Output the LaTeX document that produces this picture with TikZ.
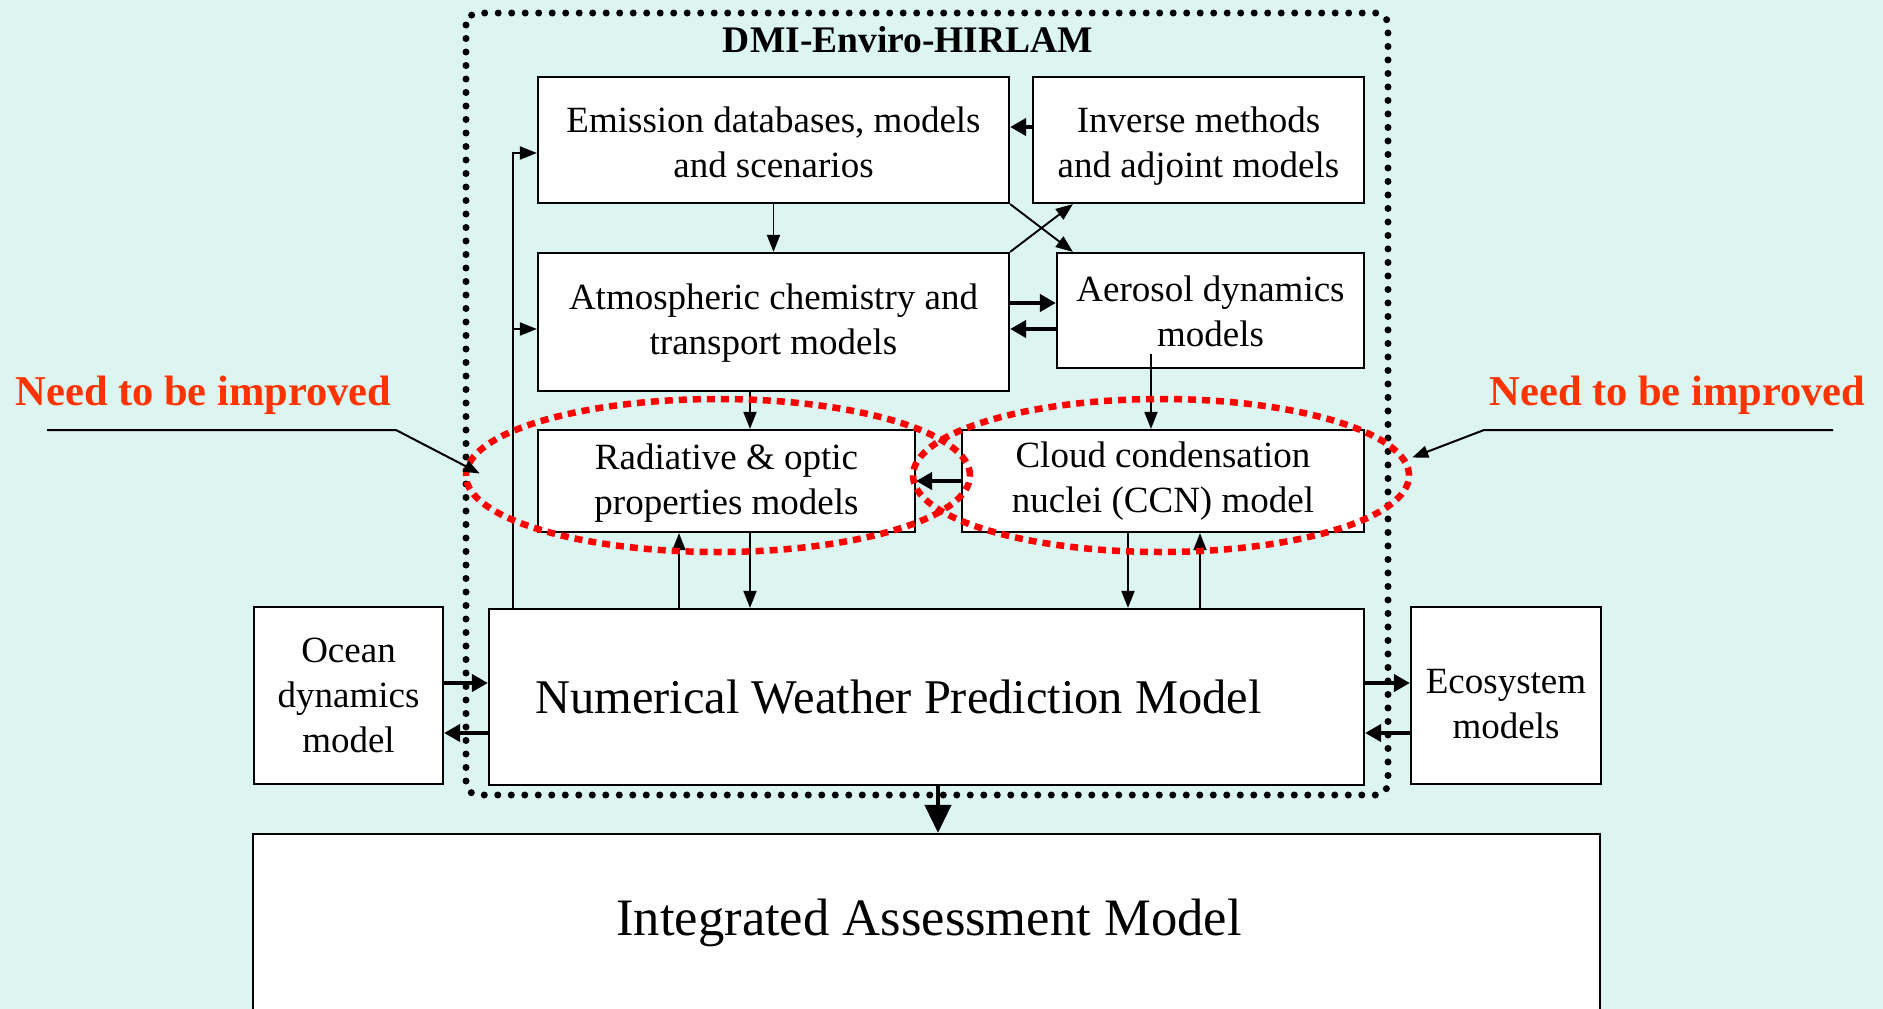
\documentclass[tikz,border=0pt]{standalone}
\usepackage{fontspec}
\setmainfont{Liberation Serif}
\usetikzlibrary{arrows.meta,calc,shapes.geometric}
\definecolor{bgc}{HTML}{DCF5F0}
\definecolor{labred}{HTML}{FF3300}
\definecolor{ellred}{HTML}{FF0000}
\newcommand\tstr[1]{\rule{0pt}{#1pt}}
\newcommand\bstr{\rule[-10pt]{0pt}{10pt}}
\begin{document}
\begin{tikzpicture}[x=1pt,y=-1pt,
  box/.style={draw=black, fill=white, line width=2.2pt, inner sep=0pt, align=center,
    font=\fontsize{37}{45}\selectfont},
  conn/.style={line width=1.9pt, -{Triangle[length=17pt,width=13pt]}},
  bconn/.style={line width=4pt, -{Triangle[length=16pt,width=17pt]}},
  bigarrow/.style={line width=4pt, -{Triangle[length=28pt,width=26pt]}},
  lbl/.style={line width=2pt, -{Triangle[length=16pt,width=12pt]}},
  dotframe/.style={draw=black, line width=7pt, line cap=round, dash pattern=on 0pt off 13.5pt, rounded corners=12pt},
  redell/.style={ellipse, draw=ellred, line width=6.5pt, dash pattern=on 8pt off 6pt, inner sep=0pt},
  needtxt/.style={text=labred, font=\bfseries\fontsize{42.5}{46}\selectfont, inner sep=0pt}
]
\fill[bgc] (0,0) rectangle (1883,1009);
\useasboundingbox (0,0) rectangle (1883,1009);

% boxes
\node[box, minimum width=471pt, minimum height=126pt] (emis) at (773.5,140) {\tstr{40}Emission databases, models\\and scenarios\bstr};
\node[box, minimum width=331pt, minimum height=126pt] (inv) at (1198.5,140) {\tstr{40}Inverse methods\\and adjoint models\bstr};
\node[box, minimum width=471pt, minimum height=138pt] (atm) at (773.5,322) {\tstr{29}Atmospheric chemistry and\\transport models\bstr};
\node[box, minimum width=307pt, minimum height=115pt] (aer) at (1210.5,310.5) {\tstr{36}Aerosol dynamics\\models\bstr};
\node[box, minimum width=377pt, minimum height=102pt] (rad) at (726.5,481) {\tstr{32}Radiative \& optic\\properties models\bstr};
\node[box, minimum width=402pt, minimum height=102pt] (ccn) at (1163,481) {\tstr{27.5}Cloud condensation\\nuclei (CCN) model\bstr};
\node[box, minimum width=875pt, minimum height=176pt, font=\fontsize{48.4}{52}\selectfont] (nwp) at (926.5,697) {Numerical Weather Prediction Model\hspace{56pt}};
\node[box, minimum width=189pt, minimum height=177pt] (ocean) at (348.5,695.5) {\tstr{33}Ocean\\dynamics\\model\bstr};
\node[box, minimum width=190pt, minimum height=177pt] (eco) at (1506,695.5) {\tstr{50}Ecosystem\\models\bstr};
\node[box, minimum width=1347pt, minimum height=200pt, text height=46pt, text depth=43pt, font=\fontsize{52.6}{58}\selectfont] (iam) at (926.5,934) {\hspace*{5pt}Integrated Assessment Model};

% connectors inside the frame
\coordinate (lv) at ($(nwp.north west)+(25,0)$);
\draw[conn] (lv) |- ($(emis.west)+(0,13)$);
\draw[conn] (lv) |- ($(atm.west)+(0,7)$);
\draw[bconn] ($(inv.west)+(0,-13)$) -- ($(emis.east)+(0,-13)$);
\draw[conn] (emis) -- (atm);
\draw[conn] (emis.south east) -- ($(aer.north west)+(17,0)$);
\draw[conn] (atm.north east) -- ($(inv.south west)+(41,0)$);
\coordinate (p1) at ($(atm.east)+(0,-19)$);
\draw[bconn] (p1) -- (p1 -| aer.west);
\coordinate (p2) at ($(atm.east)+(0,7)$);
\draw[bconn] (p2 -| aer.west) -- (p2);
\coordinate (p3) at ($(rad.north)+(23.5,0)$);
\draw[conn] (p3 |- atm.south) -- (p3);
\coordinate (p4) at ($(ccn.north)+(-12,0)$);
\draw[conn] ($(p4 |- aer.south)+(0,-15)$) -- (p4);
\draw[bconn] (ccn.west) -- (rad.east);
\draw[conn] (p3 |- rad.south) -- (p3 |- nwp.north);
\coordinate (p5) at ($(rad.south)+(-47.5,0)$);
\draw[conn] (p5 |- nwp.north) -- (p5);
\coordinate (p6) at ($(ccn.south)+(-35,0)$);
\draw[conn] (p6) -- (p6 |- nwp.north);
\coordinate (p7) at ($(ccn.south)+(37,0)$);
\draw[conn] (p7 |- nwp.north) -- (p7);

% side connectors
\coordinate (q1) at ($(ocean.east)+(0,-12.5)$);
\draw[bconn] (q1) -- (q1 -| nwp.west);
\coordinate (q2) at ($(ocean.east)+(0,37.5)$);
\draw[bconn] (q2 -| nwp.west) -- (q2);
\coordinate (q3) at ($(eco.west)+(0,-12.5)$);
\draw[bconn] (q3 -| nwp.east) -- (q3);
\coordinate (q4) at ($(eco.west)+(0,37.5)$);
\draw[bconn] (q4) -- (q4 -| nwp.east);

% dotted frame and title
\draw[dotframe] (466,13) rectangle (1388,795);
\node[font=\bfseries\fontsize{37.5}{40}\selectfont, inner sep=0pt] (title) at (908,40) {DMI-Enviro-HIRLAM};

% NWP -> IAM
\coordinate (q5) at ($(nwp.south)+(11.5,0)$);
\draw[bigarrow] (q5) -- (q5 |- iam.north);

% red ellipses
\node[redell, minimum width=504pt, minimum height=153pt] (ell1) at (718,475.5) {};
\node[redell, minimum width=496pt, minimum height=153pt] (ell2) at (1161,475.5) {};

% labels
\node[needtxt] (need1) at (203.5,395) {Need to be improved};
\node[needtxt] (need2) at (1677.5,395) {Need to be improved};
\coordinate (n1s) at (47,430);
\draw[lbl] (n1s) -- ++(349,0) -- ($(ell1.west)+(17,-2)$);
\coordinate (n2s) at (1833,430);
\draw[lbl] (n2s) -- ++(-349,0) -- ($(ell2.east)+(0,-18)$);
\end{tikzpicture}
\end{document}
